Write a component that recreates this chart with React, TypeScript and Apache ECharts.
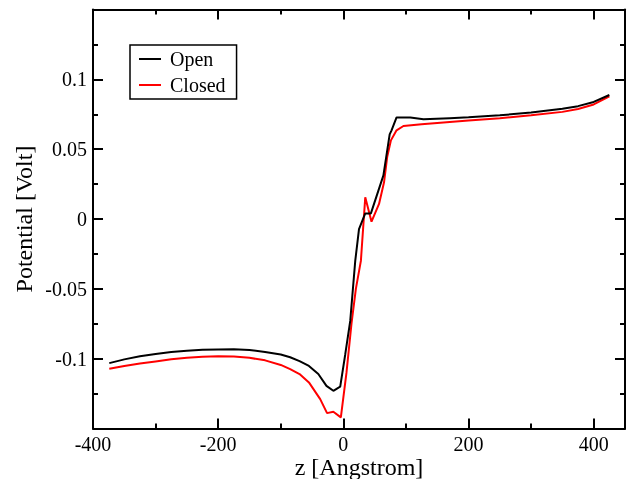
import React, { useEffect, useRef } from "react";
import * as echarts from "echarts";

const seriesNames = ["Open", "Closed"];

const openZ = [-374, -350, -325, -300, -275, -250, -225, -200, -175, -150, -125, -100, -85, -70, -55, -40, -27, -16, -5, 3, 11, 19, 25, 35, 44, 64, 74, 77, 85, 107, 128, 170, 200, 250, 300, 350, 375, 400, 425];
const openV = [-0.1032, -0.1005, -0.0983, -0.0966, -0.0953, -0.0944, -0.0937, -0.0934, -0.0933, -0.0938, -0.0952, -0.0970, -0.0990, -0.1018, -0.1052, -0.1110, -0.1195, -0.1230, -0.1200, -0.0970, -0.0730, -0.0300, -0.0072, 0.0040, 0.0040, 0.0312, 0.0606, 0.0635, 0.0727, 0.0727, 0.0714, 0.0722, 0.0728, 0.0742, 0.0763, 0.0789, 0.0808, 0.0838, 0.0888];

const closedZ = [-374, -350, -325, -300, -275, -250, -225, -200, -175, -150, -125, -100, -85, -70, -55, -37, -26, -16, -4, 5, 13, 20, 28, 35, 45, 57, 65, 70, 76, 85, 96, 125, 170, 200, 250, 300, 350, 375, 400, 425];
const closedV = [-0.1072, -0.1052, -0.1035, -0.1020, -0.1005, -0.0994, -0.0986, -0.0983, -0.0985, -0.0994, -0.1012, -0.1045, -0.1075, -0.1110, -0.1170, -0.1290, -0.1390, -0.1380, -0.1420, -0.1100, -0.0750, -0.0500, -0.0300, 0.0155, -0.0019, 0.0108, 0.0263, 0.0443, 0.0563, 0.0635, 0.0666, 0.0678, 0.0695, 0.0705, 0.0722, 0.0742, 0.0767, 0.0787, 0.0820, 0.0878];

const xLabels = [-400, -200, 0, 200, 400];
const yLabels = [-0.1, -0.05, 0, 0.05, 0.1];

const FONT = "Liberation Serif";

function zip(xs: number[], ys: number[]) {
  return xs.map((x, i) => [x, ys[i]]);
}

export default function App() {
  const ref = useRef<HTMLDivElement>(null);
  useEffect(() => {
    document.body.style.margin = "0";
    const chart = echarts.init(ref.current!, null, { renderer: "svg" });
    const axisLine = { show: true, onZero: false, lineStyle: { color: "#000", width: 2 } };
    const noLine = { show: false, onZero: false };
    const baseX = { type: "value", min: -400, max: 450, splitLine: { show: false } };
    const xFmt = (v: number) => {
      const r = Math.round(v);
      return xLabels.indexOf(r) >= 0 ? String(r) : "";
    };
    const yFmt = (v: number) => {
      const r = Math.round(v * 1000) / 1000;
      return yLabels.some((y) => Math.abs(y - r) < 1e-6) ? String(r) : "";
    };
    const yBase = {
      type: "value",
      min: -0.15,
      max: 0.15,
      interval: 0.05,
      splitLine: { show: false },
      axisLine,
      axisTick: { show: true, inside: true, length: 10, lineStyle: { color: "#000", width: 2 } },
      minorTick: { show: true, splitNumber: 2, length: 5, lineStyle: { color: "#000", width: 2 } },
      minorSplitLine: { show: false },
    };
    chart.setOption({
      animation: false,
      grid: { left: 93, top: 9.5, right: 5, bottom: 50.5, containLabel: false, outerBoundsMode: "none" },
      legend: {
        data: seriesNames,
        orient: "vertical",
        left: 130,
        top: 45,
        backgroundColor: "#fff",
        borderColor: "#000",
        borderWidth: 1.5,
        borderRadius: 0,
        padding: [4, 11, 4, 9],
        itemWidth: 22,
        itemHeight: 2,
        itemGap: 6,
        icon: "rect",
        textStyle: { fontFamily: FONT, fontSize: 20, color: "#000", padding: [0, 0, 0, 4] },
      },
      xAxis: [
        {
          ...baseX,
          position: "bottom",
          interval: 200,
          axisLine,
          axisTick: { show: true, inside: true, length: 10, lineStyle: { color: "#000", width: 2 } },
          axisLabel: { show: true, formatter: xFmt, fontFamily: FONT, fontSize: 20, color: "#000", margin: 5 },
          name: "z [Angstrom]",
          nameLocation: "middle",
          nameGap: 26,
          nameMoveOverlap: false,
          nameTextStyle: { fontFamily: FONT, fontSize: 24, color: "#000" },
        },
        {
          ...baseX,
          position: "bottom",
          interval: 100,
          axisLine: noLine,
          axisTick: { show: true, inside: true, length: 5, lineStyle: { color: "#000", width: 2 } },
          axisLabel: { show: false },
        },
        {
          ...baseX,
          position: "top",
          interval: 200,
          axisLine,
          axisTick: { show: true, inside: true, length: 10, lineStyle: { color: "#000", width: 2 } },
          axisLabel: { show: false },
        },
        {
          ...baseX,
          position: "top",
          interval: 100,
          axisLine: noLine,
          axisTick: { show: true, inside: true, length: 5, lineStyle: { color: "#000", width: 2 } },
          axisLabel: { show: false },
        },
      ],
      yAxis: [
        {
          ...yBase,
          position: "left",
          axisLabel: { show: true, formatter: yFmt, fontFamily: FONT, fontSize: 20, color: "#000", margin: 6 },
          name: "Potential [Volt]",
          nameLocation: "middle",
          nameGap: 57,
          nameMoveOverlap: false,
          nameTextStyle: { fontFamily: FONT, fontSize: 24, color: "#000" },
        },
        {
          ...yBase,
          position: "right",
          axisLabel: { show: false },
        },
      ],
      series: [
        {
          name: seriesNames[0],
          type: "line",
          xAxisIndex: 0,
          yAxisIndex: 0,
          data: zip(openZ, openV),
          symbol: "none",
          color: "#000000",
          lineStyle: { color: "#000000", width: 2 },
          z: 3,
        },
        {
          name: seriesNames[1],
          type: "line",
          xAxisIndex: 0,
          yAxisIndex: 0,
          data: zip(closedZ, closedV),
          symbol: "none",
          color: "#ff0000",
          lineStyle: { color: "#ff0000", width: 2 },
          z: 2,
        },
      ],
    });
    return () => chart.dispose();
  }, []);
  return <div ref={ref} style={{ position: "fixed", left: 0, top: 0, width: 630, height: 479 }} />;
}
